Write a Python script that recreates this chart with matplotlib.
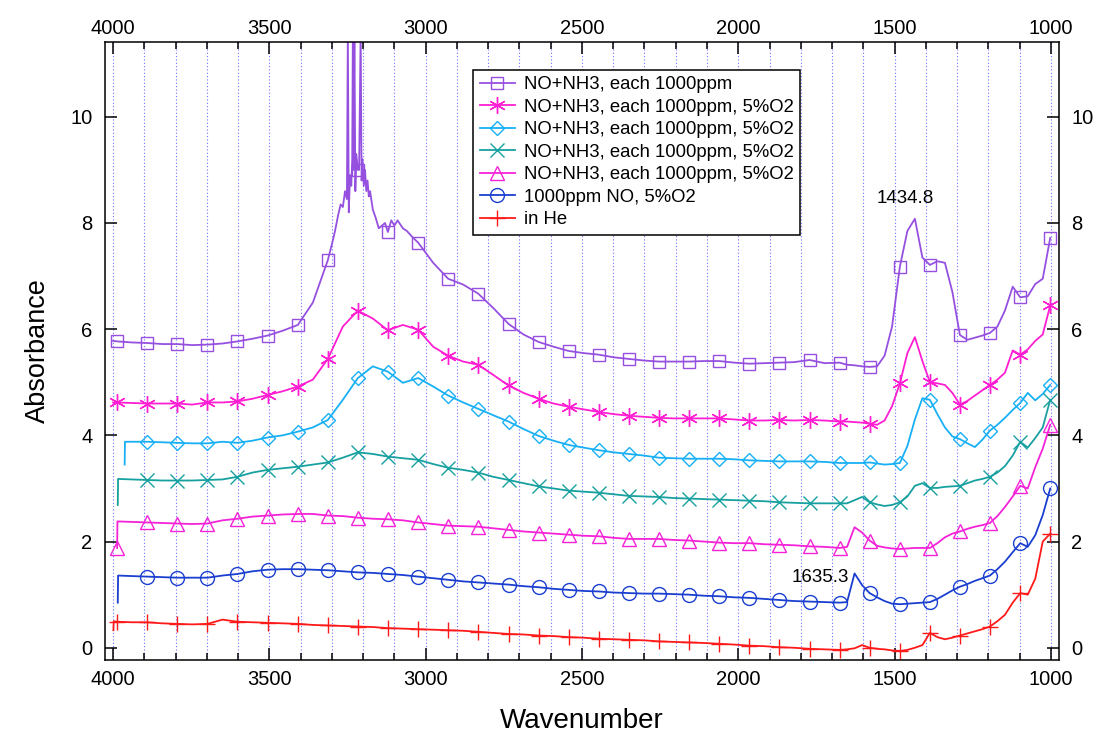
import numpy as np
import matplotlib.pyplot as plt
import matplotlib.transforms as mtransforms
from matplotlib.ticker import MultipleLocator

plt.rcParams['font.family'] = ['Liberation Sans', 'DejaVu Sans']

# wavenumber grid (cm-1), shared by all spectra
wn = [3987, 3939, 3891, 3843, 3795, 3747, 3698, 3650, 3602, 3554, 3506, 3458, 3409, 3361, 3313, 3265, 3217,
      3169, 3121, 3073, 3024, 2976, 2928, 2880, 2832, 2784, 2735, 2687, 2639, 2591, 2543, 2495, 2446,
      2398, 2350, 2302, 2254, 2206, 2158, 2110, 2061, 2013, 1965, 1917, 1869, 1821, 1772, 1724, 1676,
      1652, 1628, 1604, 1580, 1556, 1532, 1508, 1483, 1459, 1435, 1411, 1387, 1363, 1339, 1315, 1291,
      1267, 1243, 1219, 1195, 1171, 1147, 1122, 1098, 1074, 1050, 1026, 1002]

# wavenumbers that carry a marker
marks_wn = [3987, 3891, 3795, 3698, 3602, 3506, 3409, 3313, 3217, 3121, 3024, 2928, 2832, 2735, 2639,
            2543, 2446, 2350, 2254, 2158, 2061, 1965, 1869, 1772, 1676, 1580, 1483, 1387, 1291, 1195,
            1098, 1002]

nan = np.nan

purple_y = [5.77, 5.75, 5.74, 5.72, 5.72, 5.70, 5.71, 5.73, 5.77, 5.82, 5.88, 5.97, 6.08, 6.5, 7.3, 8.3, 9.0,
            8.25, 7.83, 7.9, 7.63, 7.25, 6.95, 6.84, 6.67, 6.40, 6.10, 5.90, 5.76, 5.67, 5.59, 5.55, 5.52,
            5.47, 5.44, 5.41, 5.39, 5.39, 5.39, 5.40, 5.40, 5.37, 5.35, 5.36, 5.37, 5.38, 5.42, 5.36, 5.37,
            5.33, 5.32, 5.30, 5.29, 5.30, 5.5, 6.05, 7.18, 7.85, 8.08, 7.35, 7.21, 7.28, 7.25, 6.7, 5.89,
            5.80, 5.84, 5.88, 5.93, 6.05, 6.35, 6.8, 6.6, 6.62, 6.85, 6.95, 7.72]
purple_xx = [4000, 3300, 3290, 3280, 3272, 3258, 3252, 3249, 3246, 3242, 3238, 3235, 3233, 3231, 3228,
             3225, 3222, 3213, 3208, 3205, 3202, 3198, 3194, 3190, 3186, 3182, 3178, 3160, 3150, 3140,
             3130, 3110, 3100, 3090, 3060, 3045]
purple_xy = [5.78, 7.6, 7.85, 8.15, 8.35, 8.6, 8.45, 11.6, 8.2, 8.9, 8.7, 9.2, 11.6, 9.0, 11.6,
             8.6, 9.3, 9.0, 11.6, 8.8, 9.2, 8.7, 9.0, 8.6, 8.8, 8.5, 8.6, 8.1, 7.9, 7.95,
             8.0, 8.05, 7.95, 8.05, 7.85, 7.75]

star_y = [4.62, 4.61, 4.60, 4.60, 4.60, 4.58, 4.62, 4.62, 4.64, 4.69, 4.76, 4.83, 4.92, 5.05, 5.44, 6.05, 6.35,
          6.2, 5.98, 6.08, 5.99, 5.67, 5.50, 5.39, 5.33, 5.14, 4.94, 4.80, 4.69, 4.60, 4.54, 4.49, 4.44,
          4.40, 4.37, 4.35, 4.33, 4.32, 4.32, 4.32, 4.32, 4.30, 4.28, 4.28, 4.29, 4.28, 4.29, 4.28, 4.26,
          4.26, 4.25, 4.24, 4.22, 4.20, 4.28, 4.55, 4.98, 5.55, 5.85, 5.4, 5.0, 4.98, 4.95, 4.8, 4.58,
          4.65, 4.75, 4.85, 4.95, 5.05, 5.18, 5.6, 5.52, 5.62, 5.78, 5.9, 6.45]
star_xx = [4000]
star_xy = [4.62]

cyan_y = [nan, 3.88, 3.88, 3.87, 3.86, 3.85, 3.85, 3.88, 3.86, 3.90, 3.96, 4.0, 4.07, 4.15, 4.29, 4.67, 5.08,
          5.3, 5.20, 4.99, 5.08, 4.92, 4.75, 4.62, 4.50, 4.38, 4.26, 4.12, 3.99, 3.9, 3.82, 3.77, 3.72,
          3.68, 3.65, 3.62, 3.58, 3.57, 3.56, 3.56, 3.56, 3.55, 3.53, 3.52, 3.51, 3.51, 3.51, 3.50, 3.48,
          3.48, 3.48, 3.48, 3.49, 3.47, 3.45, 3.46, 3.48, 3.8, 4.3, 4.7, 4.67, 4.4, 4.15, 3.98, 3.93,
          3.85, 3.78, 3.92, 4.09, 4.2, 4.33, 4.48, 4.61, 4.8, 4.66, 4.78, 4.95]
cyan_xx = [3963, 3962]
cyan_xy = [3.45, 3.88]

teal_y = [nan, 3.17, 3.16, 3.15, 3.15, 3.15, 3.16, 3.17, 3.22, 3.30, 3.35, 3.38, 3.41, 3.45, 3.49, 3.58, 3.68,
          3.65, 3.60, 3.57, 3.54, 3.46, 3.39, 3.35, 3.30, 3.22, 3.16, 3.10, 3.04, 3.0, 2.96, 2.94, 2.92,
          2.89, 2.86, 2.85, 2.84, 2.82, 2.81, 2.80, 2.79, 2.78, 2.77, 2.76, 2.74, 2.73, 2.72, 2.72, 2.72,
          2.72, 2.78, 2.84, 2.74, 2.70, 2.67, 2.69, 2.74, 2.85, 3.05, 3.10, 3.01, 3.01, 3.03, 3.04, 3.05,
          3.1, 3.15, 3.18, 3.22, 3.3, 3.42, 3.62, 3.88, 3.77, 3.95, 4.15, 4.67]
teal_xx = [3985, 3984]
teal_xy = [2.69, 3.18]

tri_y = [1.88, 2.37, 2.36, 2.35, 2.34, 2.33, 2.34, 2.40, 2.43, 2.47, 2.49, 2.51, 2.52, 2.52, 2.49, 2.48, 2.45,
         2.43, 2.42, 2.40, 2.36, 2.33, 2.30, 2.29, 2.28, 2.25, 2.22, 2.19, 2.17, 2.15, 2.13, 2.11, 2.10,
         2.07, 2.05, 2.05, 2.05, 2.03, 2.02, 2.0, 1.98, 1.97, 1.97, 1.95, 1.94, 1.93, 1.91, 1.90, 1.88,
         1.90, 2.27, 2.17, 2.02, 1.92, 1.89, 1.87, 1.86, 1.87, 1.88, 1.88, 1.88, 1.97, 2.08, 2.15, 2.19,
         2.24, 2.28, 2.31, 2.35, 2.48, 2.65, 2.85, 3.05, 3.0, 3.4, 3.75, 4.2]
tri_xx = [3986]
tri_xy = [2.38]

blue_y = [nan, 1.35, 1.34, 1.33, 1.32, 1.32, 1.32, 1.36, 1.39, 1.44, 1.47, 1.48, 1.48, 1.47, 1.46, 1.44, 1.42,
          1.41, 1.39, 1.37, 1.34, 1.31, 1.28, 1.25, 1.23, 1.21, 1.19, 1.16, 1.14, 1.11, 1.09, 1.07, 1.06,
          1.04, 1.03, 1.02, 1.02, 1.01, 1.0, 0.98, 0.97, 0.95, 0.94, 0.92, 0.9, 0.88, 0.87, 0.86, 0.85,
          0.86, 1.40, 1.18, 1.03, 0.95, 0.88, 0.83, 0.82, 0.83, 0.84, 0.85, 0.86, 0.92, 1.0, 1.08, 1.15,
          1.2, 1.26, 1.31, 1.36, 1.48, 1.62, 1.8, 1.97, 1.9, 2.12, 2.5, 3.0]
blue_xx = [3985, 3984]
blue_xy = [0.85, 1.36]

red_y = [0.49, 0.48, 0.48, 0.46, 0.45, 0.44, 0.45, 0.53, 0.49, 0.48, 0.47, 0.46, 0.45, 0.43, 0.42, 0.41, 0.40,
         0.39, 0.37, 0.36, 0.35, 0.34, 0.33, 0.32, 0.30, 0.28, 0.26, 0.25, 0.23, 0.22, 0.20, 0.19, 0.17,
         0.16, 0.15, 0.14, 0.12, 0.11, 0.10, 0.09, 0.075, 0.06, 0.04, 0.03, 0.01, 0.0, -0.02, -0.03, -0.04,
         -0.03, -0.01, 0.05, 0.0, -0.02, -0.03, -0.05, -0.06, -0.04, 0.0, 0.05, 0.28, 0.2, 0.16, 0.19, 0.23,
         0.27, 0.31, 0.35, 0.40, 0.5, 0.62, 0.85, 1.03, 1.0, 1.3, 2.0, 2.15]
red_xx = [3999, 3998]
red_xy = [0.33, 0.5]


def build(body, xx, xy):
    x = np.array(wn + xx, float)
    y = np.array(body + xy, float)
    order = np.argsort(-x, kind='stable')
    x, y = x[order], y[order]
    ok = ~np.isnan(y)
    x, y = x[ok], y[ok]
    marks = [i for i, v in enumerate(x) if v in marks_wn]
    return x, y, marks


series = [
    (purple_y, purple_xx, purple_xy, '#9650e0', 's', 9, 'NO+NH3, each 1000ppm'),
    (star_y, star_xx, star_xy, '#ff1ed2', (6, 2, 0), 12, 'NO+NH3, each 1000ppm, 5%O2'),
    (cyan_y, cyan_xx, cyan_xy, '#18b0f5', 'D', 7, 'NO+NH3, each 1000ppm, 5%O2'),
    (teal_y, teal_xx, teal_xy, '#17a0a0', 'x', 10, 'NO+NH3, each 1000ppm, 5%O2'),
    (tri_y, tri_xx, tri_xy, '#f522d8', '^', 10, 'NO+NH3, each 1000ppm, 5%O2'),
    (blue_y, blue_xx, blue_xy, '#1a3fd0', 'o', 10, '1000ppm NO, 5%O2'),
    (red_y, red_xx, red_xy, '#ff1a1a', '+', 12, 'in He'),
]

fig = plt.figure(figsize=(10.99, 7.32), dpi=100)
ax = fig.add_axes([0.0955, 0.0984, 0.8681, 0.8443])

for body, xx, xy, col, mk, ms, lab in series:
    x, y, marks = build(body, xx, xy)
    ax.plot(x, y, color=col, lw=1.3, marker=mk, ms=ms, mfc='none', mec=col, mew=1.0,
            markevery=marks, label=lab)

ax.set_xlim(4026, 974)
ax.set_ylim(-0.23, 11.41)
ax.xaxis.set_major_locator(MultipleLocator(500))
ax.xaxis.set_minor_locator(MultipleLocator(100))
ax.yaxis.set_major_locator(MultipleLocator(2))
ax.grid(True, which='both', axis='x', color='#6f6fff', linestyle=(0, (1, 2)), linewidth=0.8)
ax.set_axisbelow(True)

ax.tick_params(which='both', direction='in', top=True, right=True,
               labeltop=True, labelright=True, labelsize=14.5, width=1.1)
ax.tick_params(which='major', length=8.5, pad=7)
ax.tick_params(axis='y', which='major', pad=9)
ax.tick_params(which='minor', length=5)
for s in ax.spines.values():
    s.set_linewidth(1.1)

# top labels sit a little lower in the original
shift = mtransforms.ScaledTranslation(0, -4 / 72, fig.dpi_scale_trans)
for t in ax.xaxis.get_major_ticks():
    t.label2.set_transform(t.label2.get_transform() + shift)

ax.set_xlabel('Wavenumber', fontsize=20, labelpad=14)
ax.set_ylabel('Absorbance', fontsize=19.5, labelpad=14)

ax.text(1467, 8.47, '1434.8', fontsize=13.5, ha='center', va='center')
ax.text(1739, 1.32, '1635.3', fontsize=13.5, ha='center', va='center')

leg = ax.legend(loc='upper left', bbox_to_anchor=(0.386, 0.955), borderaxespad=0,
                fontsize=13.3, fancybox=False, framealpha=1, edgecolor='black',
                handlelength=1.9, labelspacing=0.3, handletextpad=0.5, borderpad=0.35)
leg.get_frame().set_linewidth(1.1)

fig.savefig('out.png', dpi=100)
